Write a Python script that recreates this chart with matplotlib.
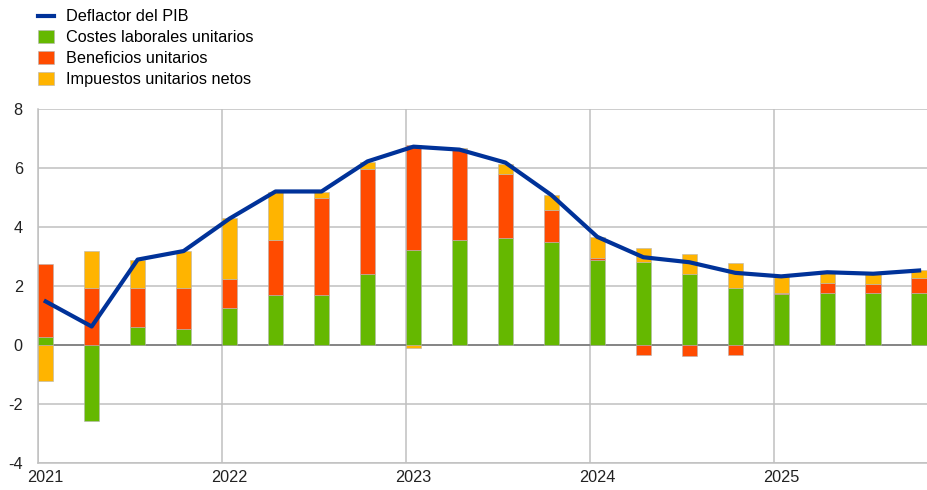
import numpy as np
import matplotlib.pyplot as plt
from matplotlib.lines import Line2D
from matplotlib.patches import Patch

plt.rcParams['font.family'] = ['Liberation Sans', 'DejaVu Sans']
plt.rcParams['axes.unicode_minus'] = False

years = ["2021", "2022", "2023", "2024", "2025"]
# quarterly contributions, 2021Q1 - 2025Q4
deflator = [1.47, 0.62, 2.89, 3.18, 4.28, 5.20, 5.20, 6.22, 6.72, 6.62,
            6.18, 5.08, 3.66, 2.97, 2.80, 2.44, 2.32, 2.46, 2.41, 2.52]
labour = [0.26, -2.60, 0.62, 0.52, 1.26, 1.70, 1.70, 2.41, 3.22, 3.57,
          3.61, 3.48, 2.88, 2.80, 2.41, 1.92, 1.72, 1.74, 1.74, 1.74]
profits = [2.49, 1.93, 1.31, 1.41, 0.96, 1.87, 3.27, 3.54, 3.57, 3.07,
           2.19, 1.10, 0.06, -0.33, -0.37, -0.33, 0.03, 0.36, 0.31, 0.53]
taxes = [-1.24, 1.26, 0.95, 1.26, 2.07, 1.60, 0.20, 0.24, -0.10, 0.03,
         0.34, 0.51, 0.73, 0.47, 0.68, 0.87, 0.59, 0.36, 0.35, 0.27]

series = [labour, profits, taxes]
colors = ["#65b800", "#ff4b00", "#ffb400"]
names = ["Costes laborales unitarios", "Beneficios unitarios",
         "Impuestos unitarios netos"]
line_color = "#003299"

x = np.arange(len(deflator))
w = 1 / 3

fig = plt.figure(figsize=(9.28, 4.9), dpi=100)
ax = fig.add_axes([0.041, 0.0557, 0.9585, 0.722])

pos_bottom = np.zeros(len(x))
neg_bottom = np.zeros(len(x))
for vals, c in zip(series, colors):
    vals = np.array(vals)
    bottom = np.where(vals >= 0, pos_bottom, neg_bottom)
    ax.bar(x, vals, width=w, bottom=bottom, align='edge', color=c,
           edgecolor="#b4b4b4", linewidth=0.4, zorder=3)
    pos_bottom += np.where(vals >= 0, vals, 0)
    neg_bottom += np.where(vals < 0, vals, 0)

ax.plot(x + w / 2, deflator, color=line_color, lw=3, zorder=4,
        solid_joinstyle='round')

ax.set_xlim(0, 19.35)
ax.set_ylim(-4, 8)
ax.set_yticks(np.arange(-4, 9, 2))
ax.set_xticks(np.arange(0, 20, 4) + w / 2)
ax.set_xticklabels(years)
ax.set_xticks(np.arange(0, 20, 4), minor=True)
ax.tick_params(axis='both', which='both', length=0, labelsize=11.7,
               colors="#222222")
ax.tick_params(axis='y', pad=11)
ax.tick_params(axis='x', pad=5)

ax.grid(axis='y', color="#c0c0c0", lw=1.1, zorder=0)
ax.grid(axis='x', which='minor', color="#c0c0c0", lw=1.1, zorder=0)
ax.axhline(0, color="#808080", lw=1.3, zorder=2)

for s in ['top', 'right']:
    ax.spines[s].set_visible(False)
for s in ['left', 'bottom']:
    ax.spines[s].set_color("#c0c0c0")
    ax.spines[s].set_linewidth(1.1)

handles = [Line2D([0], [0], color=line_color, lw=3)]
handles += [Patch(facecolor=c, edgecolor="#b4b4b4", linewidth=0.4) for c in colors]
labels = ["Deflactor del PIB"] + names
fig.legend(handles, labels, loc='upper left', bbox_to_anchor=(0.034, 0.994),
           frameon=False, fontsize=11.7, handlelength=1.0, handleheight=0.8,
           handletextpad=0.75, labelspacing=0.36, borderaxespad=0)

fig.savefig("out.png", dpi=100)
